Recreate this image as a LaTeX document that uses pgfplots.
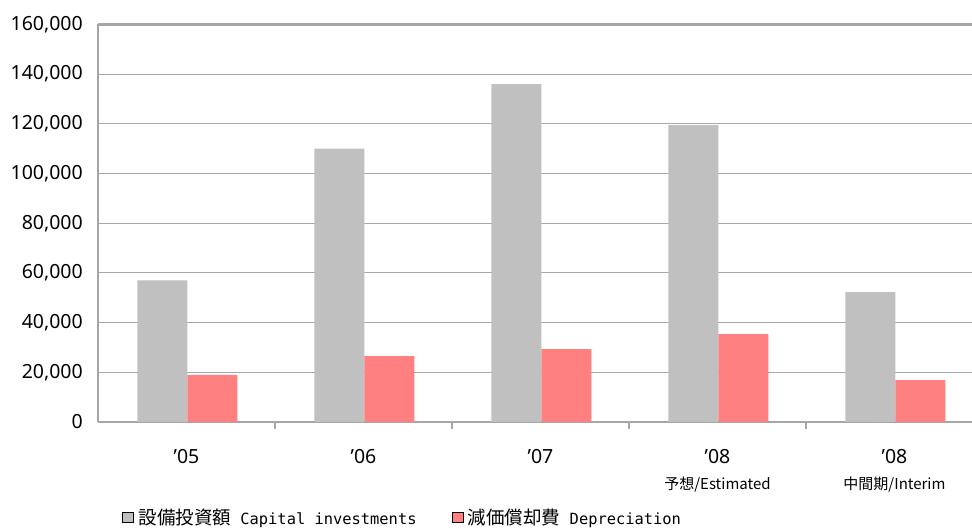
\documentclass[border=0pt]{standalone}
\usepackage{fontspec}
\setmainfont{Noto Sans}
\newfontfamily\cjk{Noto Sans CJK JP}
\newfontfamily\mono{DejaVu Sans Mono}
\usepackage{pgfplots}
\pgfplotsset{compat=1.18}
\definecolor{capex}{HTML}{C0C0C0}
\definecolor{depr}{HTML}{FF8080}
\definecolor{axisgray}{HTML}{A6A6A6}
\definecolor{gridgray}{HTML}{A8A8A8}
\pgfplotsset{sqlegend/.style={legend image code/.code={\draw[##1] (0pt,-5pt) rectangle (11pt,5pt);}}}

\begin{document}
\begin{tikzpicture}[x=1pt,y=1pt]
\begin{axis}[
	at={(0,0)}, anchor=south west,
	scale only axis,
	width=874pt, height=397.5pt,
	xmin=-0.5, xmax=4.438,
	ymin=0, ymax=160000,
	ybar=0pt, bar width=50pt,
	axis lines*=left,
	axis line style={axisgray, line width=2.6pt},
	ytick={0,20000,...,160000},
	scaled y ticks=false,
	yticklabel={\pgfmathprintnumber[fixed,precision=0,1000 sep={,},assume math mode=true]{\tick}},
	yticklabel style={font=\fontsize{19.5}{20}\selectfont, inner sep=0pt, anchor=east, xshift=-15pt},
	ymajorgrids,
	grid style={gridgray, line width=1pt},
	extra y ticks={160000},
	extra y tick labels={},
	extra y tick style={grid style={axisgray, line width=2.4pt}},
	ytick style={axisgray, line width=1pt},
	major tick length=5pt,
	xtick={0,1,2,3,4},
	xticklabels={
		{’05},
		{’06},
		{’07},
		{’08\\{\cjk\fontsize{15}{15}\selectfont 予想/Estimated}},
		{’08\\{\cjk\fontsize{15}{15}\selectfont 中間期/Interim}}},
	xticklabel style={font=\fontsize{19.5}{26}\selectfont, align=center, anchor=north, inner sep=0pt, yshift=-22pt},
	major x tick style={draw=none},
	minor xtick={0.5,1.5,2.5,3.5},
	minor x tick style={axisgray, line width=1.6pt},
	minor tick length=7pt,
	legend style={at={(0.0275,-0.240)}, anchor=west, draw=none, fill=none,
		legend columns=2, inner sep=0pt,
		nodes={inner sep=0pt, anchor=west},
		/tikz/every odd column/.append style={column sep=5pt},
		/tikz/every even column/.append style={column sep=35pt}},
]
\addplot[fill=capex, draw=none, sqlegend, bar shift=-24pt]
	coordinates {(0,57000) (1,110000) (2,136000) (3,119500) (4,52300)};
\addlegendentry{{\cjk\fontsize{18.5}{20}\selectfont 設備投資額}{\mono\fontsize{15.4}{20}\selectfont{} Capital investments}}
\addplot[fill=depr, draw=none, sqlegend, bar shift=26pt]
	coordinates {(0,19000) (1,26500) (2,29300) (3,35400) (4,16900)};
\addlegendentry{{\cjk\fontsize{18.5}{20}\selectfont 減価償却費}{\mono\fontsize{15.4}{20}\selectfont{} Depreciation}}
\end{axis}
\pgfresetboundingbox
\path[use as bounding box] (-98pt,-107pt) rectangle (874pt,422pt);
\end{tikzpicture}
\end{document}
